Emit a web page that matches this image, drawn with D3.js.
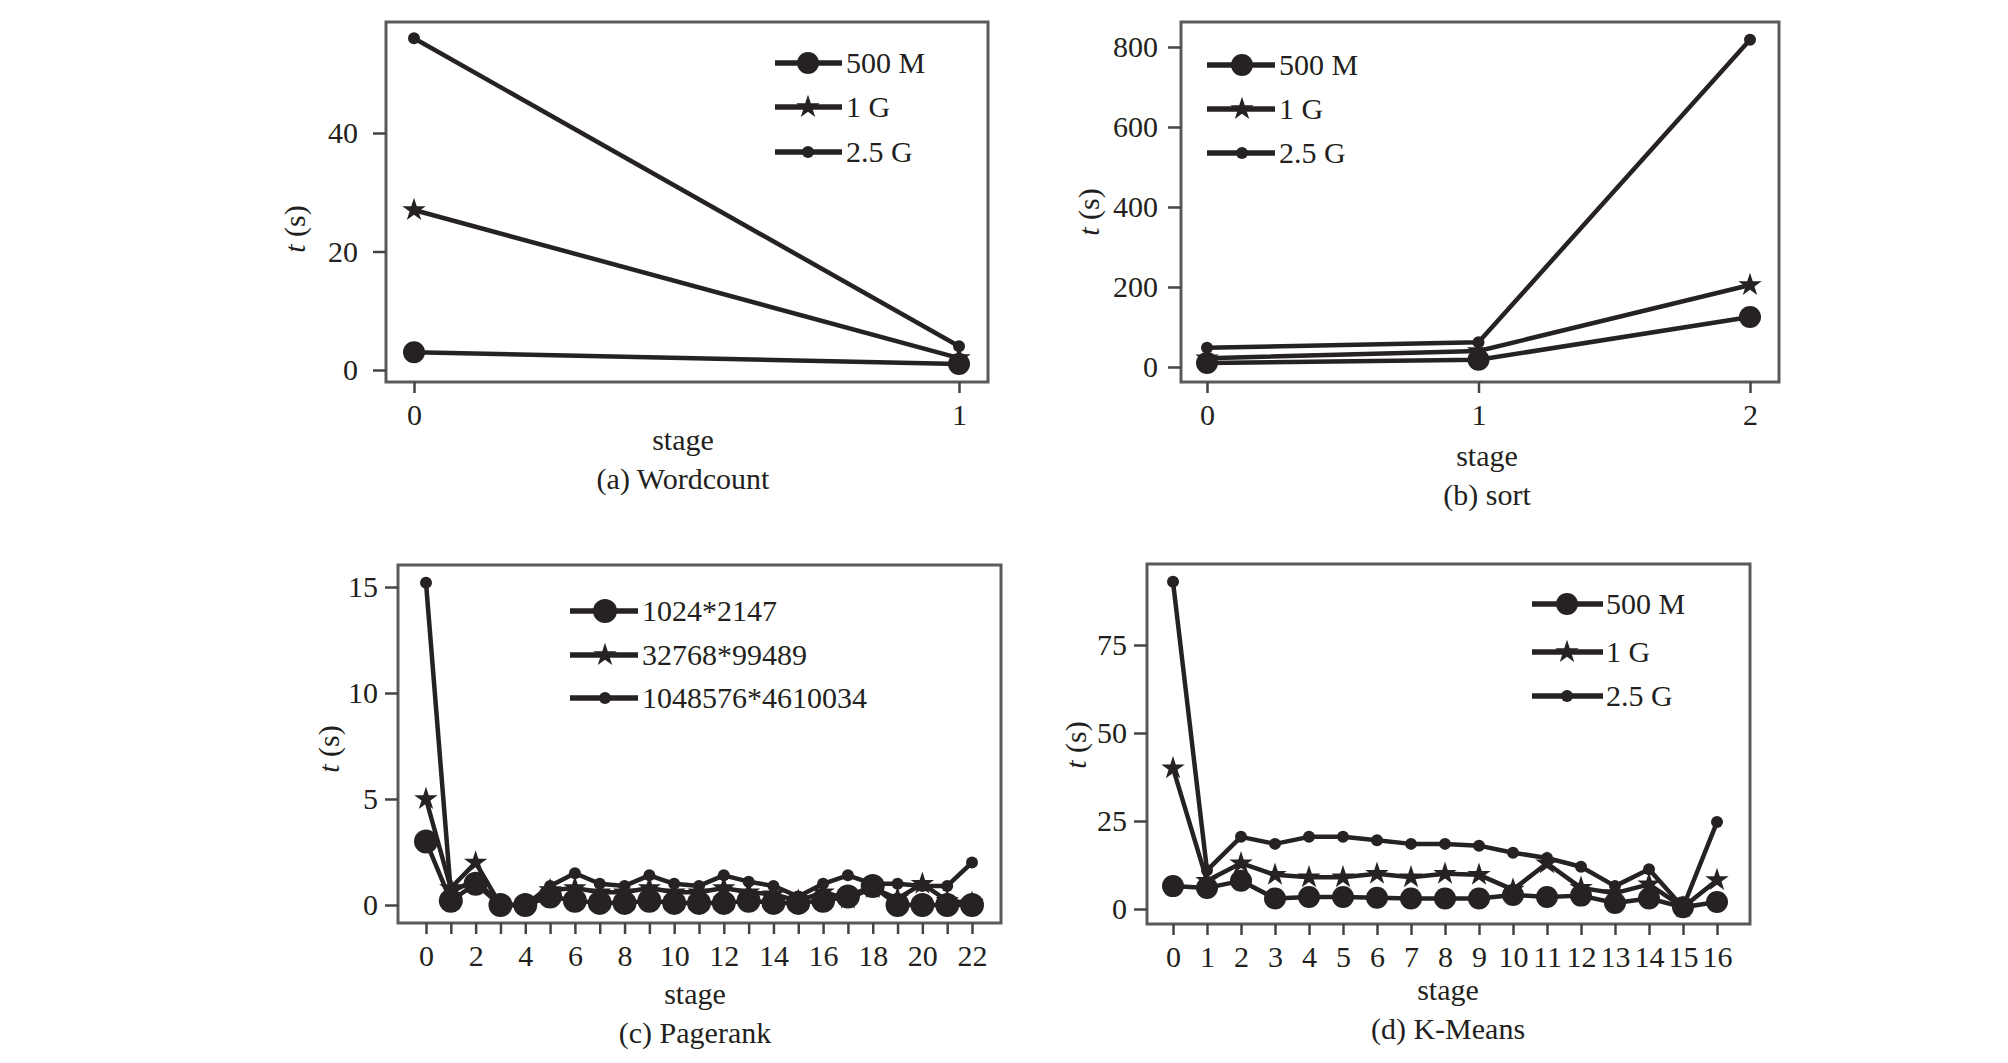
<!DOCTYPE html>
<html><head><meta charset="utf-8">
<script src="https://cdn.jsdelivr.net/npm/d3@7/dist/d3.min.js"></script>
<style>
html,body{margin:0;padding:0;background:#fff;}
svg text{font-family:"Liberation Serif","Times New Roman",serif;fill:#231f20;}
</style></head>
<body>
<svg id="c" width="2008" height="1063"></svg>
<script>
// ---------- DATA ----------
const wcStages = [0, 1];
const wc500M = [3, 1];
const wc1G = [27, 2];
const wc25G = [56, 4];
const wcYTicks = [0, 20, 40];
const wcXTicks = [0, 1];

const sortStages = [0, 1, 2];
const sort500M = [10, 18, 125];
const sort1G = [22, 40, 205];
const sort25G = [48, 62, 818];
const sortYTicks = [0, 200, 400, 600, 800];
const sortXTicks = [0, 1, 2];

const prStages = [0,1,2,3,4,5,6,7,8,9,10,11,12,13,14,15,16,17,18,19,20,21,22];
const pr1024 = [3.0,0.2,1.0,0,0,0.4,0.2,0.1,0.1,0.2,0.1,0.1,0.1,0.2,0.1,0.1,0.2,0.4,0.9,0,0,0,0];
const pr32768 = [5.0,0.8,2.0,0,0,0.7,0.8,0.6,0.6,0.8,0.6,0.6,0.8,0.6,0.5,0.2,0.6,0.3,0.8,0.3,1.0,0.2,0.1];
const pr1048576 = [15.2,0.6,1.2,0,0,0.9,1.5,1.0,0.9,1.4,1.0,0.9,1.4,1.1,0.9,0.4,1.0,1.4,1.0,1.0,0.9,0.9,2.0];
const prYTicks = [0, 5, 10, 15];
const prXTicks = prStages;
const prXLabels = [0,2,4,6,8,10,12,14,16,18,20,22];

const kmStages = [0,1,2,3,4,5,6,7,8,9,10,11,12,13,14,15,16];
const km500M = [6.5,6,8,3,3.4,3.4,3.2,3,3,3,4,3.4,3.8,1.7,3,0.5,2];
const km1G = [40,8,13,9.7,9,9,10,9,10,9.7,5.5,13,6,4.5,7,0.5,8.2];
const km25G = [93,11,20.5,18.5,20.5,20.5,19.5,18.5,18.5,18,16,14.5,12,6.5,11.3,0.5,24.7];
const kmYTicks = [0, 25, 50, 75];
const kmXTicks = kmStages;

const legendSize = ["500 M", "1 G", "2.5 G"];
const legendPR = ["1024*2147", "32768*99489", "1048576*4610034"];
const markerKinds = ["circle", "star", "dot"];

// ---------- DRAW ----------
const INK = "#262223";
const FS = 30;
const svg = d3.select("#c");

function panel(cfg) {
  const g = svg.append("g");
  const x = d3.scaleLinear().domain(cfg.xDom).range(cfg.xRng);
  const y = d3.scaleLinear().domain(cfg.yDom).range(cfg.yRng);
  const f = cfg.frame;
  g.append("rect").attr("x", f.l).attr("y", f.t).attr("width", f.r - f.l).attr("height", f.b - f.t)
    .attr("fill", "none").attr("stroke", "#5a5a5a").attr("stroke-width", 3);
  const ya = g.append("g").attr("transform", `translate(${f.l},0)`)
    .call(d3.axisLeft(y).tickValues(cfg.yTicks).tickSize(13).tickPadding(cfg.ypad).tickFormat(d3.format("d")));
  const xa = g.append("g").attr("transform", `translate(0,${f.b})`)
    .call(d3.axisBottom(x).tickValues(cfg.xTicks).tickSize(11).tickPadding(11)
      .tickFormat(d => (cfg.xLabels ? (cfg.xLabels.includes(d) ? d : "") : d)));
  [ya, xa].forEach(a => {
    a.select(".domain").remove();
    a.selectAll(".tick line").attr("stroke", "#444").attr("stroke-width", 2.5);
    a.selectAll("text").attr("font-size", FS).attr("fill", INK)
      .style("font-family", '"Liberation Serif","Times New Roman",serif');
  });
  const line = d3.line().x((d, i) => x(cfg.stages[i])).y(d => y(d));
  cfg.series.forEach((s) => {
    g.append("path").attr("d", line(s)).attr("fill", "none").attr("stroke", INK)
      .attr("stroke-width", 4.5).attr("stroke-linejoin", "round");
  });
  cfg.series.forEach((s, k) => {
    s.forEach((v, i) => marker(g, markerKinds[k], x(cfg.stages[i]), y(v), cfg.big || 11));
  });
  const L = cfg.legend;
  cfg.legendLabels.forEach((lab, k) => {
    const cy = L.rows[k];
    g.append("line").attr("x1", L.x1).attr("x2", L.x2).attr("y1", cy).attr("y2", cy)
      .attr("stroke", INK).attr("stroke-width", 5.5);
    marker(g, markerKinds[k], L.m, cy, cfg.big || 11);
    g.append("text").attr("x", L.tx).attr("y", cy + 10).attr("font-size", FS).text(lab);
  });
  g.append("text").attr("x", cfg.stageX).attr("y", cfg.stageY).attr("text-anchor", "middle")
    .attr("font-size", FS).text("stage");
  g.append("text").attr("x", cfg.stageX).attr("y", cfg.capY).attr("text-anchor", "middle")
    .attr("font-size", FS).text(cfg.caption);
  const yl = g.append("text").attr("transform", `translate(${cfg.ylab[0]},${cfg.ylab[1]}) rotate(-90)`)
    .attr("text-anchor", "middle").attr("font-size", FS);
  yl.append("tspan").attr("font-style", "italic").text("t");
  yl.append("tspan").text(" (s)");
}

function marker(g, kind, cx, cy, r) {
  if (kind === "circle") {
    g.append("circle").attr("cx", cx).attr("cy", cy).attr("r", r).attr("fill", INK);
  } else if (kind === "star") {
    g.append("path").attr("d", d3.symbol().type(d3.symbolStar).size(170)())
      .attr("transform", `translate(${cx},${cy})`).attr("fill", INK);
  } else {
    g.append("circle").attr("cx", cx).attr("cy", cy).attr("r", 6).attr("fill", INK);
  }
}

panel({
  frame: {l: 386, r: 988, t: 22, b: 382},
  xDom: [0, 1], xRng: [414, 959], yDom: [0, 40], yRng: [370, 133], ypad: 15,
  yTicks: wcYTicks, xTicks: wcXTicks, stages: wcStages,
  series: [wc500M, wc1G, wc25G], legendLabels: legendSize,
  legend: {x1: 775, x2: 842, m: 808, tx: 846, rows: [63, 107, 152]},
  stageX: 683, stageY: 450, capY: 489, caption: "(a) Wordcount", ylab: [305, 229]
});
panel({
  frame: {l: 1181, r: 1779, t: 22, b: 382},
  xDom: [0, 2], xRng: [1207, 1750], yDom: [0, 800], yRng: [367, 47], ypad: 10,
  yTicks: sortYTicks, xTicks: sortXTicks, stages: sortStages,
  series: [sort500M, sort1G, sort25G], legendLabels: legendSize,
  legend: {x1: 1207, x2: 1275, m: 1242, tx: 1279, rows: [65, 109, 153]},
  stageX: 1487, stageY: 466, capY: 505, caption: "(b) sort", ylab: [1099, 212]
});
panel({
  frame: {l: 398, r: 1001, t: 565, b: 923},
  xDom: [0, 22], xRng: [426, 972], yDom: [0, 15], yRng: [905, 587], ypad: 7,
  yTicks: prYTicks, xTicks: prXTicks, xLabels: prXLabels, stages: prStages,
  series: [pr1024, pr32768, pr1048576], legendLabels: legendPR, big: 12,
  legend: {x1: 570, x2: 638, m: 605, tx: 642, rows: [611, 655, 698]},
  stageX: 695, stageY: 1004, capY: 1043, caption: "(c) Pagerank", ylab: [339, 749]
});
panel({
  frame: {l: 1147, r: 1750, t: 564, b: 924},
  xDom: [0, 16], xRng: [1173, 1717], yDom: [0, 75], yRng: [909, 645], ypad: 7,
  yTicks: kmYTicks, xTicks: kmXTicks, stages: kmStages,
  series: [km500M, km1G, km25G], legendLabels: legendSize,
  legend: {x1: 1532, x2: 1603, m: 1567, tx: 1606, rows: [604, 652, 696]},
  stageX: 1448, stageY: 1000, capY: 1039, caption: "(d) K-Means", ylab: [1086, 745]
});
</script>
</body></html>
